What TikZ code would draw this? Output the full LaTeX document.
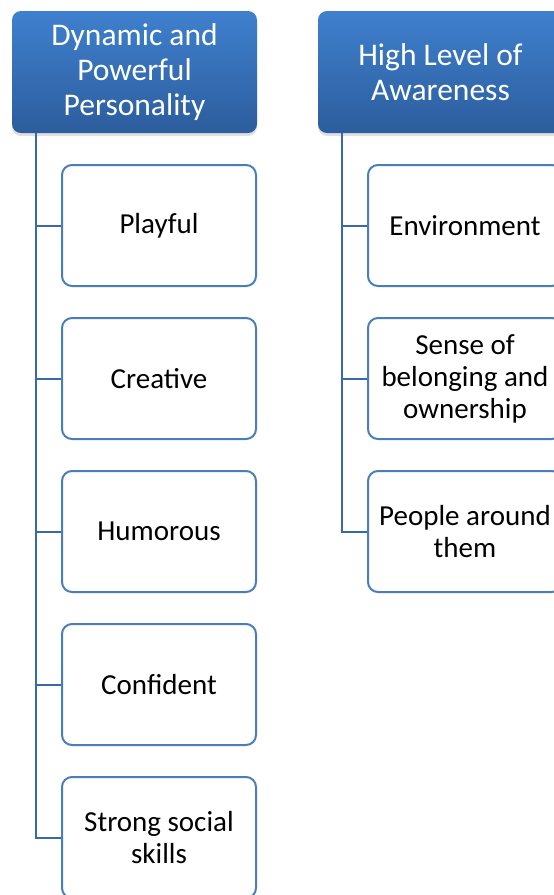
\documentclass[tikz,border=0pt]{standalone}
\usepackage{fontspec}
\setmainfont{Carlito}
\usetikzlibrary{shadows}
\definecolor{hdtop}{HTML}{3F80CE}
\definecolor{hdbot}{HTML}{2C5D9D}
\definecolor{boxline}{HTML}{4A7EBB}
\definecolor{connline}{HTML}{3A69A8}
\tikzset{
  header/.style={rounded corners=9pt, top color=hdtop, bottom color=hdbot,
    minimum width=245pt, minimum height=122pt, inner sep=0pt, align=center,
    text=white, font=\fontsize{31.5}{35}\selectfont,
    drop shadow={opacity=0.25, shadow xshift=0pt, shadow yshift=-3pt}},
  childbox/.style={rounded corners=10pt, draw=boxline, line width=2pt, fill=white,
    minimum width=194pt, minimum height=121pt, inner sep=0pt, align=center,
    text=black, font=\fontsize{29}{32}\selectfont},
  conn/.style={draw=connline, line width=2pt}
}
\begin{document}
\begin{tikzpicture}[x=1pt,y=-1pt]
\useasboundingbox (0,0) rectangle (554,895);
\clip (0,0) rectangle (554,895);
% headers
\node[header] (h1) at (134.5,72) {Dynamic and\\Powerful\\Personality};
\node[header] (h2) at (440.5,72) {High Level of\\Awareness};
% left children
\node[childbox] (c1) at (159,225.5) {Playful};
\node[childbox] (c2) at (159,378.5) {Creative};
\node[childbox] (c3) at (159,531.5) {Humorous};
\node[childbox] (c4) at (159,684.5) {Confident};
\node[childbox] (c5) at (159,837.5) {Strong social\\skills};
% right children
\node[childbox] (d1) at (465,225.5) {Environment};
\node[childbox] (d2) at (465,378.5) {Sense of\\belonging and\\ownership};
\node[childbox] (d3) at (465,531.5) {People around\\them};
% connectors
\foreach \c in {c1,c2,c3,c4,c5}
  \draw[conn] ([xshift=24.5pt]h1.south west) |- (\c.west);
\foreach \d in {d1,d2,d3}
  \draw[conn] ([xshift=24.5pt]h2.south west) |- (\d.west);
\end{tikzpicture}
\end{document}
